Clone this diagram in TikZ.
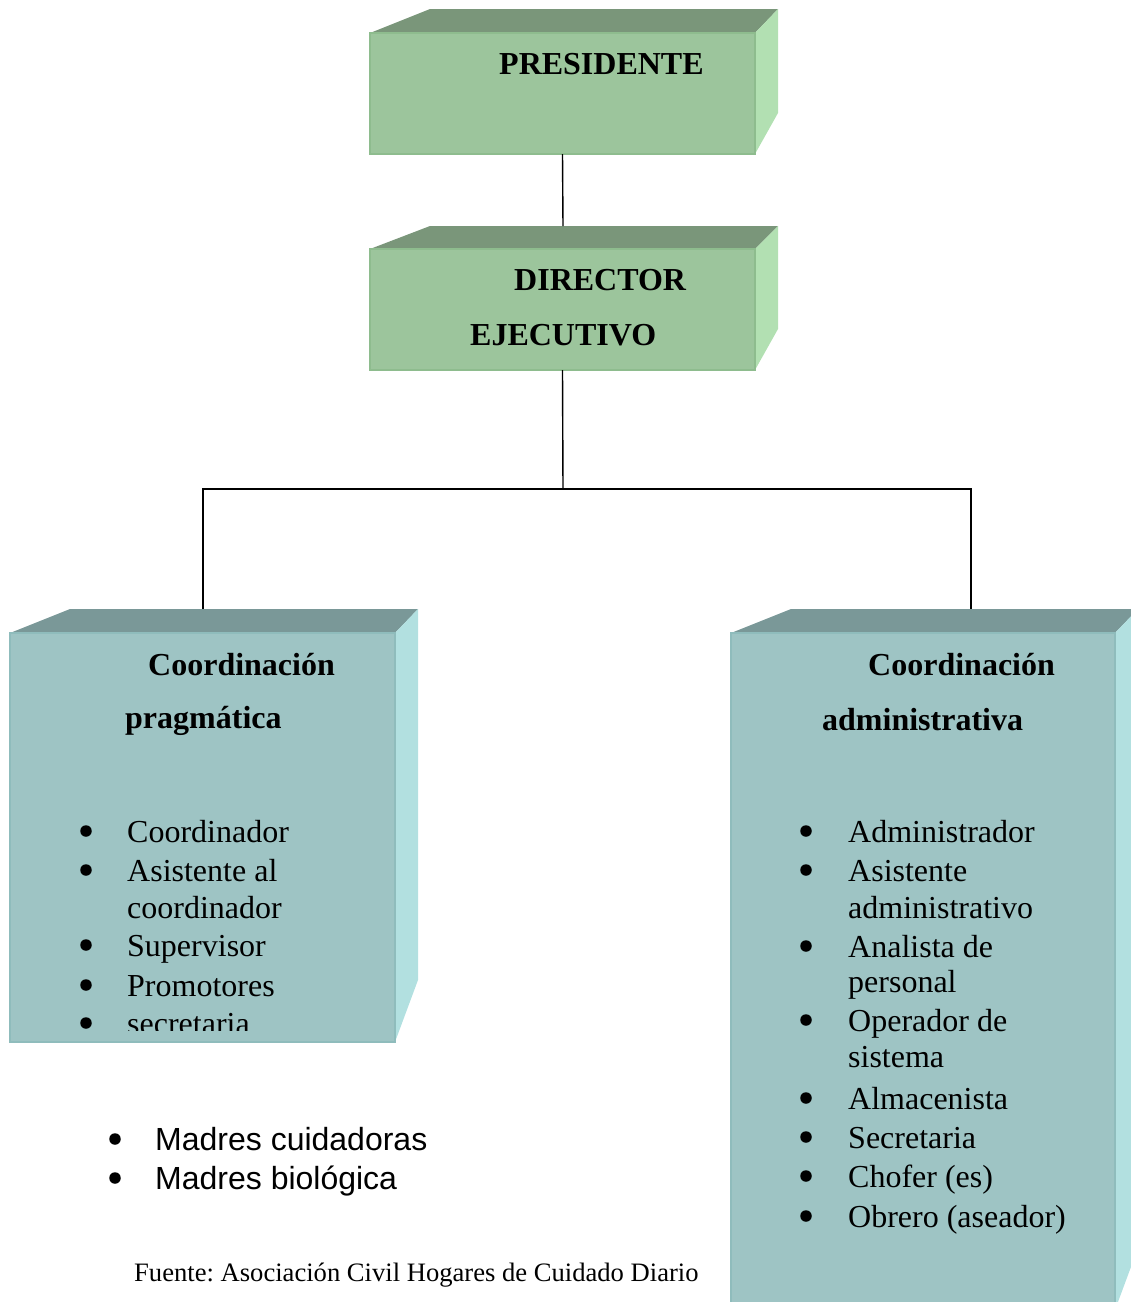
\documentclass[tikz,border=0pt]{standalone}
\usepackage{fontspec}
\setmainfont{Liberation Serif}
\newfontfamily\arialfont{Liberation Sans}
\definecolor{gfront}{HTML}{9CC59C}
\definecolor{gtop}{HTML}{7A967A}
\definecolor{gside}{HTML}{B2E0B2}
\definecolor{gedge}{HTML}{8EBC8E}
\definecolor{tfront}{HTML}{9EC4C4}
\definecolor{ttop}{HTML}{7A9898}
\definecolor{tside}{HTML}{B2E0E0}
\definecolor{tedge}{HTML}{8FBCBC}
\begin{document}
\frenchspacing
\begin{tikzpicture}[x=1pt,y=-1pt,
  gbox/.style={fill=gfront,draw=gedge,line width=1.2pt,anchor=north west,inner sep=0,outer sep=0},
  tbox/.style={fill=tfront,draw=tedge,line width=1.2pt,anchor=north west,inner sep=0,outer sep=0},
  conn/.style={line width=1.4pt,black},
  headtxt/.style={font=\fontsize{32}{38}\selectfont\bfseries,anchor=base west,inner sep=0},
  itemtxt/.style={font=\fontsize{32}{38}\selectfont,anchor=base west,inner sep=0},
  bulletdot/.style={circle,fill=black,minimum size=11.5,inner sep=0},
  sanstxt/.style={font=\arialfont\fontsize{32}{38}\selectfont,anchor=base west,inner sep=0},
  srctxt/.style={font=\fontsize{26.6}{32}\selectfont,anchor=base west,inner sep=0}]
\useasboundingbox (0,0) rectangle (1131,1302);
\clip (0,0) rectangle (1131,1302);

% PRESIDENTE box
\fill[gtop] (370,33) -- (430,9) -- (778,9) -- (755,33) -- cycle;
\fill[gside] (755,33) -- (778,9) -- (778,113) -- (755,154) -- cycle;
\node[gbox,minimum width=385,minimum height=121] (pres) at (370,33) {};
\node[headtxt] (prestxt) at (499,74) {PRESIDENTE};

% DIRECTOR box
\fill[gtop] (370,249) -- (430,226) -- (778,226) -- (755,249) -- cycle;
\fill[gside] (755,249) -- (778,226) -- (778,329) -- (755,370) -- cycle;
\node[gbox,minimum width=385,minimum height=121] (dir) at (370,249) {};
\node[headtxt] (dirtxt1) at (514,290) {DIRECTOR};
\node[headtxt] (dirtxt2) at (470,345) {EJECUTIVO};

% Left box
\fill[ttop] (10,633) -- (70,609) -- (418,609) -- (395,633) -- cycle;
\fill[tside] (395,633) -- (418,609) -- (418,980) -- (395,1042) -- cycle;
\node[tbox,minimum width=385,minimum height=409] (lbox) at (10,633) {};
\node[headtxt] (lh1) at (148,675) {Coordinación};
\node[headtxt] (lh2) at (125,728) {pragmática};
\begin{scope}
\clip (10,633) rectangle (395,1030);
\foreach \y/\t [count=\i] in {842/Coordinador,881/Asistente al,956/Supervisor,996/Promotores,1034/secretaria}{
  \node[bulletdot] (lb\i) at (86,\y-11) {};
  \node[itemtxt] (li\i) at (127,\y) {\t};
}
\node[itemtxt] (li2b) at (127,918) {coordinador};
\end{scope}

% Right box
\fill[ttop] (731,633) -- (791,609) -- (1138,609) -- (1115,633) -- cycle;
\fill[tside] (1115,633) -- (1138,609) -- (1138,1248) -- (1115,1310) -- cycle;
\node[tbox,minimum width=384,minimum height=677] (rbox) at (731,633) {};
\node[headtxt] (rh1) at (868,675) {Coordinación};
\node[headtxt] (rh2) at (822,730) {administrativa};
\foreach \y/\t [count=\i] in {842/Administrador,881/Asistente,957/Analista de,1031/Operador de,1109/Almacenista,1148/Secretaria,1187/Chofer (es),1227/Obrero (aseador)}{
  \node[bulletdot] (rb\i) at (806,\y-11) {};
  \node[itemtxt] (ri\i) at (848,\y) {\t};
}
\node[itemtxt] (ri2b) at (848,918) {administrativo};
\node[itemtxt] (ri3b) at (848,992) {personal};
\node[itemtxt] (ri4b) at (848,1067) {sistema};

% Connectors
\coordinate (dirtop) at (563,226);
\coordinate (bus) at (563,489);
\coordinate (ltop) at (203,609);
\coordinate (rtop) at (971,609);
\draw[conn] (pres.south) -- (dirtop);
\draw[conn] (dir.south) -- (bus);
\draw[conn] (ltop) |- (bus) -| (rtop);

% Bottom list
\node[bulletdot] (mb1) at (115,1139) {};
\node[sanstxt] (mt1) at (155,1150) {Madres cuidadoras};
\node[bulletdot] (mb2) at (115,1178) {};
\node[sanstxt] (mt2) at (155,1189) {Madres biológica};

% Source
\node[srctxt] (src) at (134,1281) {Fuente: Asociación Civil Hogares de Cuidado Diario};
\end{tikzpicture}
\end{document}
